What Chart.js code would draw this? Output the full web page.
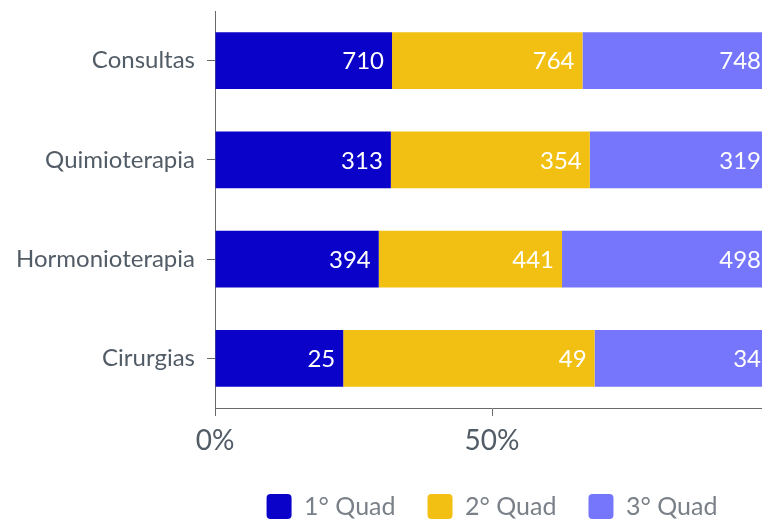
<!DOCTYPE html>
<html>
<head>
<meta charset="utf-8">
<script src="https://cdn.jsdelivr.net/npm/chart.js@4.4.0/dist/chart.umd.min.js"></script>
<style>
  html, body { margin: 0; padding: 0; background: #fff; overflow: hidden; }
  #wrap { width: 762px; height: 520px; overflow: hidden; position: relative; }
  canvas { display: block; }
</style>
</head>
<body>
<div id="wrap"><canvas id="c" width="780" height="520"></canvas></div>
<script>
const categories = ['Consultas', 'Quimioterapia', 'Hormonioterapia', 'Cirurgias'];
const seriesNames = ['1° Quad', '2° Quad', '3° Quad'];
const quad1 = [710, 313, 394, 25];
const quad2 = [764, 354, 441, 49];
const quad3 = [748, 319, 498, 34];
const xTickValues = [0, 50];
const colors = ['#0a02c8', '#f2c012', '#7676fc'];

const rawSeries = [quad1, quad2, quad3];
const totals = categories.map((_, i) => quad1[i] + quad2[i] + quad3[i]);
const textGrey = '#525c66';

const valueLabels = {
  id: 'valueLabels',
  afterDatasetsDraw(chart) {
    const ctx = chart.ctx;
    ctx.save();
    ctx.font = '24px Lato';
    ctx.fillStyle = '#ffffff';
    ctx.textAlign = 'right';
    ctx.textBaseline = 'middle';
    chart.data.datasets.forEach((ds, di) => {
      const meta = chart.getDatasetMeta(di);
      meta.data.forEach((el, i) => {
        ctx.fillText(String(ds.raw[i]), el.x - 8, el.y + 1);
      });
    });
    ctx.restore();
  }
};

new Chart(document.getElementById('c'), {
  type: 'bar',
  data: {
    labels: categories,
    datasets: rawSeries.map((arr, k) => ({
      label: seriesNames[k],
      raw: arr,
      data: arr.map((v, i) => v / totals[i] * 100),
      backgroundColor: colors[k],
      borderWidth: 0,
      borderRadius: 4,
      barPercentage: 0.57,
      categoryPercentage: 1.0
    }))
  },
  options: {
    indexAxis: 'y',
    responsive: false,
    animation: false,
    layout: { padding: { top: 11, right: 11, left: 0, bottom: -9 } },
    datasets: { bar: { borderRadius: 0 } },
    scales: {
      x: {
        stacked: true,
        min: 0, max: 100,
        afterBuildTicks(scale) { scale.ticks = xTickValues.map(v => ({ value: v })); },
        afterFit(scale) { scale.paddingRight = 0; scale.paddingLeft = 0; scale.height = 54; },
        grid: { drawOnChartArea: false, drawTicks: true, tickLength: 8, color: '#6a6a6a', tickColor: '#6a6a6a' },
        border: { display: true, color: '#6a6a6a', width: 1 },
        ticks: { color: textGrey, font: { family: 'Lato', size: 28 }, padding: 8, callback: v => v + '%' }
      },
      y: {
        stacked: true,
        afterFit(scale) { scale.width = 215; scale.paddingTop = 0; scale.paddingBottom = 0; },
        grid: { drawOnChartArea: false, drawTicks: true, offset: false, tickLength: 8, color: '#6a6a6a', tickColor: '#6a6a6a' },
        border: { display: true, color: '#6a6a6a', width: 1 },
        ticks: { color: textGrey, font: { family: 'Lato', size: 24 }, padding: 12 }
      }
    },
    plugins: {
      legend: {
        position: 'bottom',
        fullSize: false,
        labels: {
          color: '#7a8088',
          font: { family: 'Lato', size: 25 },
          boxWidth: 25, boxHeight: 25,
          useBorderRadius: true, borderRadius: 4,
          padding: 32
        }
      },
      tooltip: { enabled: false }
    }
  },
  plugins: [valueLabels]
});
</script>
</body>
</html>
